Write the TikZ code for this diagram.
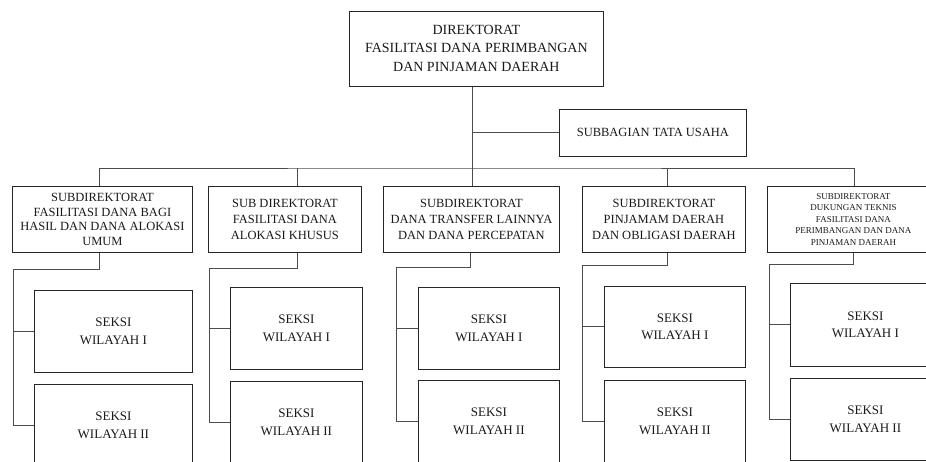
\documentclass[tikz,border=0pt]{standalone}
\usepackage{fontspec}
\setmainfont{Liberation Serif}
\begin{document}
\begin{tikzpicture}[x=1pt,y=-1pt,
  box/.style={draw=black!85, line width=0.8pt, inner sep=0pt, align=center, anchor=north west, text=black!90},
  conn/.style={draw=black!70, line width=0.9pt},
  ftop/.style={font=\fontsize{14}{17.5}\selectfont},
  fsub/.style={font=\fontsize{12.5}{16}\selectfont},
  fsubA/.style={font=\fontsize{12.5}{14.5}\selectfont},
  fsmall/.style={font=\fontsize{9}{11.5}\selectfont},
  fsek/.style={font=\fontsize{13}{17.5}\selectfont},
]
\useasboundingbox (0,0) rectangle (926,461);
\clip (0,0) rectangle (926,461);

% top
\node[box, ftop, minimum width=254, minimum height=75] (dir) at (349,11)
  {DIREKTORAT\\FASILITASI DANA PERIMBANGAN\\[2pt]DAN PINJAMAN DAERAH};
\node[box, fsub, minimum width=187, minimum height=47] (sba) at (559,109)
  {SUBBAGIAN TATA USAHA};

% subdirektorat
\node[box, fsubA, minimum width=180, minimum height=66] (sub1) at (12,186)
  {SUBDIREKTORAT\\FASILITASI DANA BAGI\\HASIL DAN DANA ALOKASI\\UMUM};
\node[box, fsub, minimum width=153, minimum height=66] (sub2) at (208,186)
  {SUB DIREKTORAT\\FASILITASI DANA\\ALOKASI KHUSUS};
\node[box, fsub, minimum width=176, minimum height=66] (sub3) at (383,186)
  {SUBDIREKTORAT\\DANA TRANSFER LAINNYA\\DAN DANA PERCEPATAN};
\node[box, fsub, minimum width=163, minimum height=66] (sub4) at (582,186)
  {SUBDIREKTORAT\\PINJAMAM DAERAH\\DAN OBLIGASI DAERAH};
\node[box, fsmall, minimum width=172, minimum height=66] (sub5) at (767,186)
  {SUBDIREKTORAT\\DUKUNGAN TEKNIS\\FASILITASI DANA\\PERIMBANGAN DAN DANA\\PINJAMAN DAERAH};

% seksi
\node[box, fsek, minimum width=158, minimum height=82] (s1a) at (34,290) {SEKSI\\WILAYAH I};
\node[box, fsek, minimum width=158, minimum height=82] (s1b) at (34,384) {SEKSI\\WILAYAH II};
\node[box, fsek, minimum width=132, minimum height=82] (s2a) at (230,287) {SEKSI\\WILAYAH I};
\node[box, fsek, minimum width=132, minimum height=82] (s2b) at (230,381) {SEKSI\\WILAYAH II};
\node[box, fsek, minimum width=141, minimum height=82] (s3a) at (418,287) {SEKSI\\WILAYAH I};
\node[box, fsek, minimum width=141, minimum height=82] (s3b) at (418,380) {SEKSI\\WILAYAH II};
\node[box, fsek, minimum width=141, minimum height=81] (s4a) at (604,286) {SEKSI\\WILAYAH I};
\node[box, fsek, minimum width=141, minimum height=82] (s4b) at (604,380) {SEKSI\\WILAYAH II};
\node[box, fsek, minimum width=150, minimum height=83] (s5a) at (790,283) {SEKSI\\WILAYAH I};
\node[box, fsek, minimum width=150, minimum height=82] (s5b) at (790,378) {SEKSI\\WILAYAH II};

% upper connectors
\coordinate (trunk) at (472,168);
\draw[conn] (dir.south -| trunk) -- (trunk);
\draw[conn] (sba.west) -- (sba.west -| trunk);
\draw[conn] ([xshift=-3]sub1.north) |- (trunk) -| ([xshift=1]sub5.north);
\draw[conn] ([xshift=12.5]sub2.north) -- ([xshift=12.5]sub2.north |- trunk);
\draw[conn] ([xshift=1]sub3.north) -- ([xshift=1]sub3.north |- trunk);
\draw[conn] ([xshift=3.5]sub4.north) -- ([xshift=3.5]sub4.north |- trunk);

% lower connectors
\coordinate (c1) at (13,269);
\coordinate (c2) at (209,268);
\coordinate (c3) at (396,267);
\coordinate (c4) at (582,265);
\coordinate (c5) at (769,264);
\draw[conn] ([xshift=-3]sub1.south) |- (c1) |- (s1b.west);
\draw[conn] (s1a.west -| c1) -- (s1a.west);
\draw[conn] ([xshift=12.5]sub2.south) |- (c2) |- (s2b.west);
\draw[conn] (s2a.west -| c2) -- (s2a.west);
\draw[conn] ([xshift=-1]sub3.south) |- (c3) |- (s3b.west);
\draw[conn] (s3a.west -| c3) -- (s3a.west);
\draw[conn] ([xshift=3.5]sub4.south) |- (c4) |- (s4b.west);
\draw[conn] (s4a.west -| c4) -- (s4a.west);
\draw[conn] (sub5.south) |- (c5) |- (s5b.west);
\draw[conn] (s5a.west -| c5) -- (s5a.west);
\end{tikzpicture}
\end{document}
